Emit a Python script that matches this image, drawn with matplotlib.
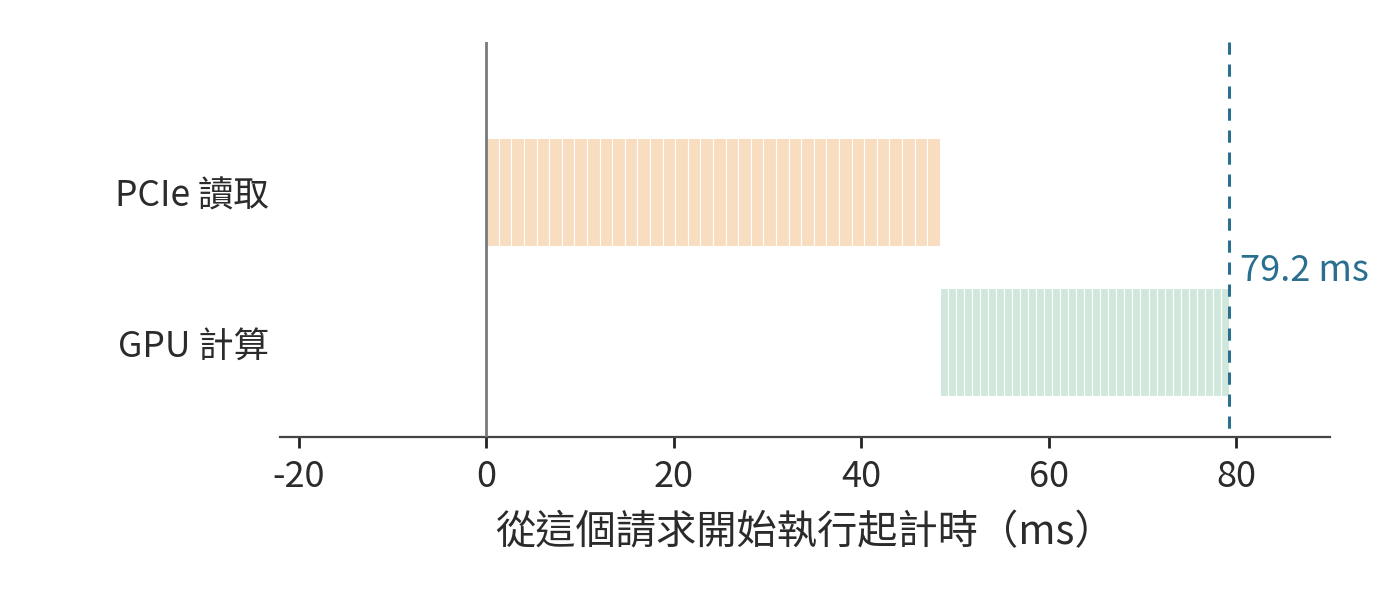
import matplotlib
matplotlib.use("Agg")
import matplotlib.pyplot as plt
import numpy as np

plt.rcParams['font.family'] = ['Noto Sans CJK TC', 'DejaVu Sans']
plt.rcParams['axes.unicode_minus'] = False

# Data
categories = ["PCIe 讀取", "GPU 計算"]
n_layers = 36
pcie_per_layer_ms = 1.344
gpu_per_layer_ms = 0.856
total_ms = 79.2
xticks = [-20, 0, 20, 40, 60, 80]

pcie_color = "#f8ddc0"
gpu_color = "#d0e8dc"
line_color = "#2a6f90"

fig = plt.figure(figsize=(14, 6), dpi=100)
ax = fig.add_axes([0.2, 0.2717, 0.75, 0.6583])

y_top, y_bottom = -1.0, 1.63

pcie_durs = [pcie_per_layer_ms] * n_layers
gpu_durs = [gpu_per_layer_ms] * n_layers
pcie_lefts = np.concatenate([[0], np.cumsum(pcie_durs)[:-1]])
pcie_end = float(np.sum(pcie_durs))
gpu_lefts = pcie_end + np.concatenate([[0], np.cumsum(gpu_durs)[:-1]])

ax.barh([0] * n_layers, pcie_durs, left=pcie_lefts, height=0.72,
        color=pcie_color, edgecolor="white", linewidth=0.8, zorder=2)
ax.barh([1] * n_layers, gpu_durs, left=gpu_lefts, height=0.72,
        color=gpu_color, edgecolor="white", linewidth=0.8, zorder=2)

ax.axvline(0, color="#7a7a7a", linewidth=2, zorder=3)
ax.plot([total_ms, total_ms], [y_top, y_bottom], color=line_color, linewidth=2.2,
        linestyle=(0, (4, 3.2)), zorder=4, clip_on=False)
ax.text(total_ms + 1.2, 0.525, f"{total_ms} ms", color=line_color, fontsize=26,
        va="center", ha="left")

ax.set_xlim(-22, 90)
ax.set_ylim(y_bottom, y_top)
ax.set_xticks(xticks)
ax.set_xticklabels([str(t) for t in xticks], fontsize=26, color="#2b2b2b")
ax.set_yticks([0, 1])
ax.set_yticklabels(categories, fontsize=25.5, color="#2b2b2b")
ax.tick_params(axis="y", length=0, pad=8)
ax.tick_params(axis="x", length=8, width=2, color="#222222", pad=8)

for s in ["top", "right", "left"]:
    ax.spines[s].set_visible(False)
ax.spines["bottom"].set_color("#444444")
ax.spines["bottom"].set_linewidth(1.6)

ax.set_xlabel("從這個請求開始執行起計時（ms）", fontsize=29, color="#2b2b2b", labelpad=12)

fig.savefig("out.png", dpi=100)
